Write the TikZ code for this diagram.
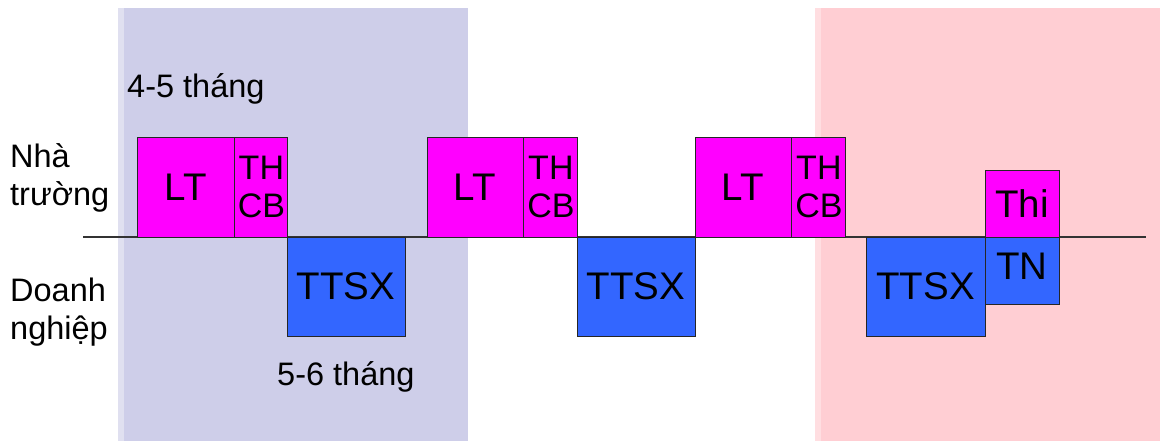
\documentclass[tikz,border=0pt]{standalone}
\usepackage{fontspec}
\setmainfont{Liberation Sans}
\usepackage{tikz}
\usetikzlibrary{
    positioning,
    calc
}
\definecolor{PhaseLavender}{RGB}{206,206,233}
\definecolor{PhaseLavenderEdge}{RGB}{224,224,240}
\definecolor{PhasePink}{RGB}{255,206,211}
\definecolor{PhasePinkEdge}{RGB}{255,222,225}
\definecolor{SchoolMagenta}{RGB}{255,0,255}
\definecolor{FirmBlue}{RGB}{51,102,255}

\tikzset{
    block/.style={
        draw=black!85, line width=0.9pt, inner sep=0pt,
        font=\fontsize{38.5}{37}\selectfont, align=center
    },
    school/.style={block, fill=SchoolMagenta},
    firm/.style={block, fill=FirmBlue},
    narrow/.style={school, font=\fontsize{34}{38}\selectfont},
    rowlabel/.style={
        anchor=west, inner sep=0pt, align=left,
        font=\fontsize{32.5}{38}\selectfont
    },
    note/.style={inner sep=0pt, font=\fontsize{32.5}{38}\selectfont}
}

\begin{document}
\begin{tikzpicture}[
    x=1pt, y=-1pt
]

\useasboundingbox (0,0) rectangle (1160,441);

% shaded phases
\fill[PhaseLavender] (118,8) rectangle (468,441);
\fill[PhaseLavenderEdge] (118,8) rectangle (124,441);
\fill[PhasePink] (815,8) rectangle (1160,441);
\fill[PhasePinkEdge] (815,8) rectangle (821,441);

% time line between the two rows
\coordinate (L) at (83,237);
\coordinate (R) at (1146,237);
\draw[line width=1.3pt, black!80] (L) -- (R);

% row labels
\node[rowlabel] (school) at (10,178) {Nhà\\trường};
\node[rowlabel] (firm) at (10,312) {Doanh\\nghiệp};

% first cycle
\node[school, minimum width=97, minimum height=100] (lt1) at (185.5,187) {LT};
\node[narrow, minimum width=53, minimum height=100, right=0pt of lt1] (thcb1) {TH\\CB};
\node[firm, minimum width=118, minimum height=99] (ttsx1) at (346,286.5) {TTSX};

% second cycle
\node[school, minimum width=96, minimum height=100] (lt2) at (475,187) {LT};
\node[narrow, minimum width=54, minimum height=100, right=0pt of lt2] (thcb2) {TH\\CB};
\node[firm, minimum width=118, minimum height=99] (ttsx2) at (636,286.5) {TTSX};

% third cycle
\node[school, minimum width=96, minimum height=100] (lt3) at (743,187) {LT};
\node[narrow, minimum width=54, minimum height=100, right=0pt of lt3] (thcb3) {TH\\CB};
\node[firm, minimum width=119, minimum height=99] (ttsx3) at (925.5,286.5) {TTSX};

% final exam
\node[school, minimum width=74, minimum height=67] (thi) at (1022,203.5) {Thi};
\node[firm, minimum width=74, minimum height=67, text depth=8pt] (tn) at (1022,270.5) {TN};

% durations
\node[note, anchor=west] (dur1) at (127,89) {4-5 tháng};
\node[note, anchor=west] (dur2) at (277,377) {5-6 tháng};

\end{tikzpicture}
\end{document}
